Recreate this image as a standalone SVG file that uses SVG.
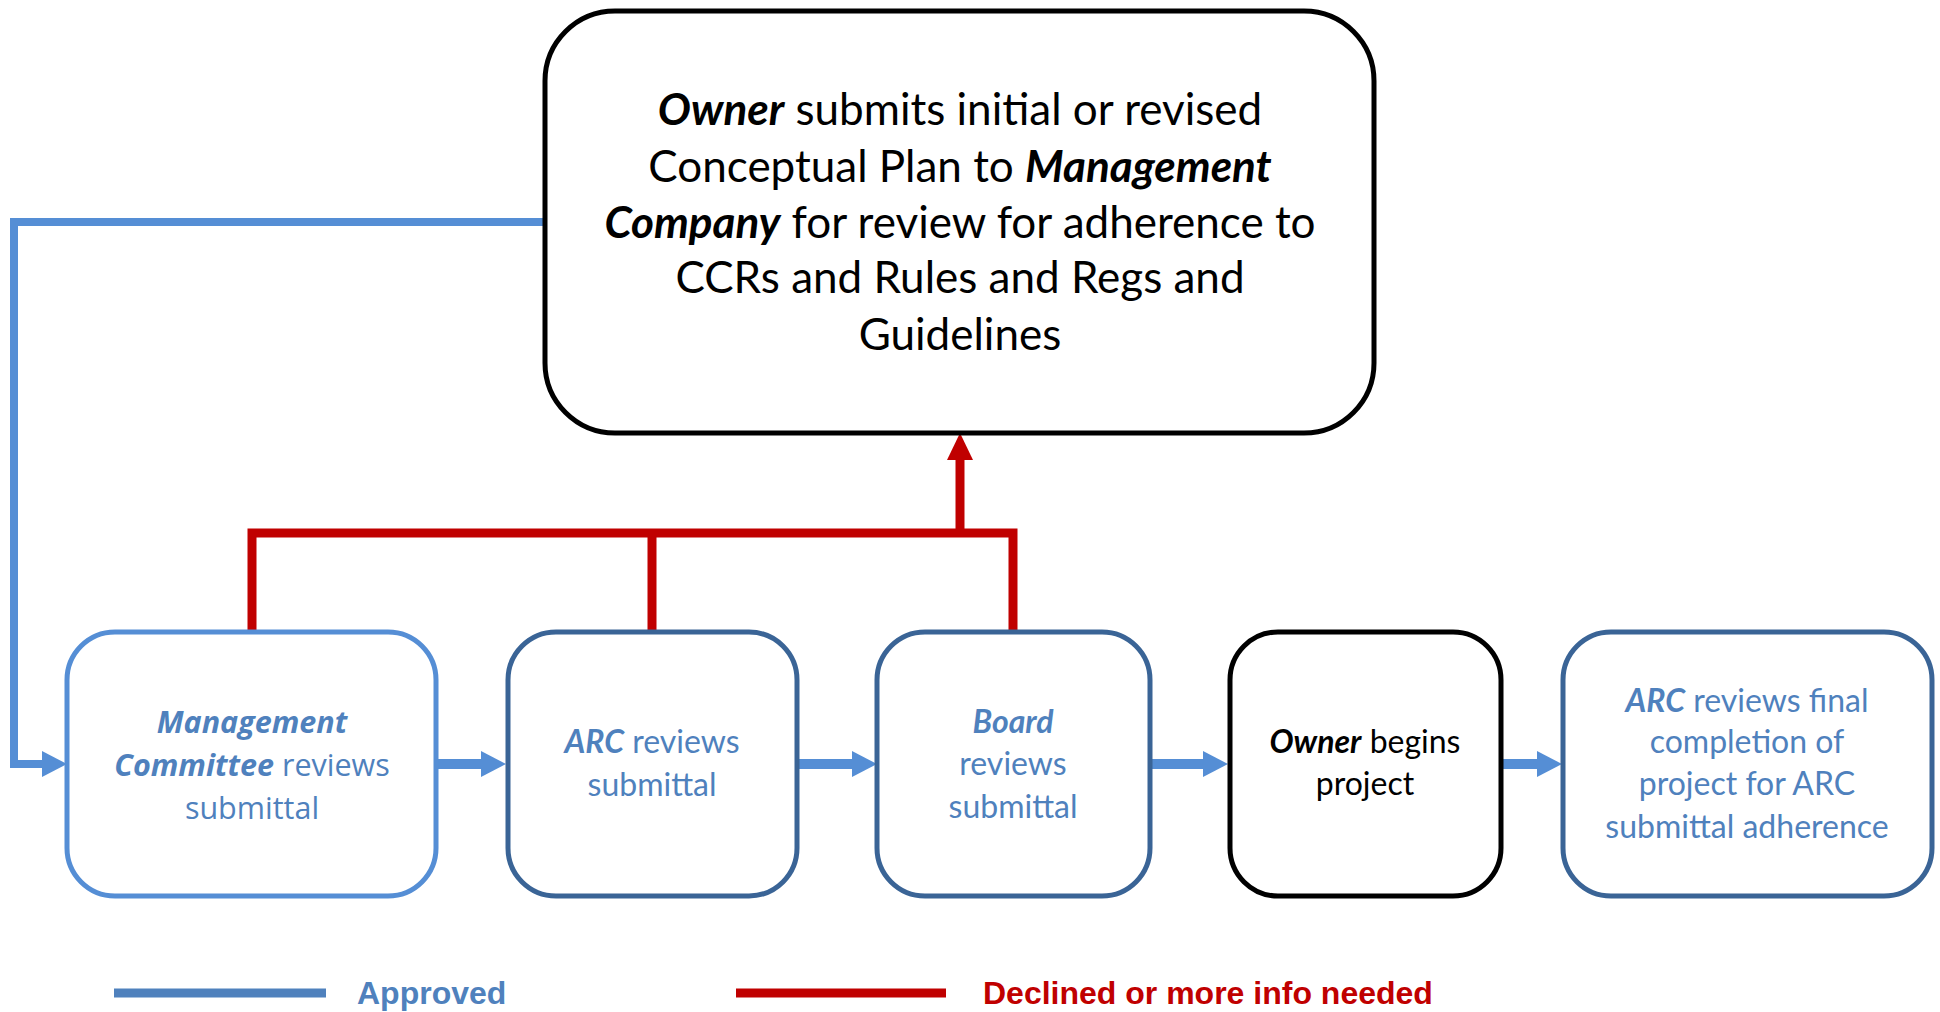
<svg xmlns="http://www.w3.org/2000/svg" width="1940" height="1012" viewBox="0 0 1940 1012">
<style>
.box{fill:#fff;stroke-width:5}
.lb{stroke:#558ED5}
.db{stroke:#3A6496}
.bk{stroke:#000}
.big{font-family:Lato,"Open Sans",sans-serif;font-size:44px;fill:#000;text-anchor:middle}
.sm{font-family:Lato,"Open Sans",sans-serif;font-size:32px;text-anchor:middle}
.seg{font-family:"Open Sans","Noto Sans",sans-serif;font-size:30.5px;text-anchor:middle;fill:#4F81BD}
.blue{fill:#4F81BD}
.bi{font-weight:bold;font-style:italic}
.leg{font-family:"Liberation Sans",Arial,sans-serif;font-size:32px;font-weight:bold}
.ok{fill:none;stroke:#558ED5;stroke-linejoin:miter}
.no{fill:none;stroke:#C00000;stroke-width:9;stroke-linejoin:miter}
</style>
<defs>
<marker id="ah" markerUnits="userSpaceOnUse" markerWidth="25" markerHeight="26" refX="0" refY="13" orient="auto" overflow="visible">
<path d="M0,0 L25,13 L0,26 Z" fill="#558ED5"/>
</marker>
<marker id="ahr" markerUnits="userSpaceOnUse" markerWidth="27" markerHeight="26" refX="0" refY="13" orient="auto" overflow="visible">
<path d="M0,0 L27,13 L0,26 Z" fill="#C00000"/>
</marker>
</defs>

<g id="connectors">
<path class="ok" stroke-width="8" d="M545,222 H14 V764 H42" marker-end="url(#ah)"/>
<path class="ok" stroke-width="10" d="M438,764 H481" marker-end="url(#ah)"/>
<path class="ok" stroke-width="10" d="M799,764 H852" marker-end="url(#ah)"/>
<path class="ok" stroke-width="10" d="M1152,764 H1203" marker-end="url(#ah)"/>
<path class="ok" stroke-width="10" d="M1503,764 H1537" marker-end="url(#ah)"/>
<path class="no" d="M252,632 V533 H1013 V632"/>
<path class="no" d="M652,533 V632"/>
<path class="no" stroke-width="10" d="M960,533 V460" marker-end="url(#ahr)"/>
</g>

<g id="node-submit">
<rect class="box bk" x="545" y="11" width="829" height="422" rx="70" ry="70"/>
<text class="big" x="960" y="125"><tspan class="bi">Owner</tspan> submits initial or revised</text>
<text class="big" x="960" y="182">Conceptual Plan to <tspan class="bi">Management</tspan></text>
<text class="big" x="960" y="238"><tspan class="bi">Company</tspan> for review for adherence to</text>
<text class="big" x="960" y="293">CCRs and Rules and Regs and</text>
<text class="big" x="960" y="350">Guidelines</text>
</g>

<g id="node-mgmt">
<rect class="box lb" x="67" y="632" width="369" height="264" rx="48" ry="48"/>
<text class="seg" x="252" y="733"><tspan class="bi">Management</tspan></text>
<text class="seg" x="252" y="776"><tspan class="bi">Committee</tspan> reviews</text>
<text class="seg" x="252" y="819">submittal</text>
</g>

<g id="node-arc">
<rect class="box db" x="508" y="632" width="289" height="264" rx="48" ry="48"/>
<text class="sm blue" x="652" y="753"><tspan class="bi">ARC</tspan> reviews</text>
<text class="sm blue" x="652" y="796">submittal</text>
</g>

<g id="node-board">
<rect class="box db" x="877" y="632" width="273" height="264" rx="48" ry="48"/>
<text class="sm blue" x="1013" y="733"><tspan class="bi">Board</tspan></text>
<text class="sm blue" x="1013" y="775">reviews</text>
<text class="sm blue" x="1013" y="818">submittal</text>
</g>

<g id="node-owner">
<rect class="box bk" x="1230" y="632" width="271" height="264" rx="48" ry="48"/>
<text class="sm" x="1365" y="753" fill="#000"><tspan class="bi">Owner</tspan> begins</text>
<text class="sm" x="1365" y="795" fill="#000">project</text>
</g>

<g id="node-final">
<rect class="box db" x="1563" y="632" width="369" height="264" rx="48" ry="48"/>
<text class="sm blue" x="1747" y="712"><tspan class="bi">ARC</tspan> reviews final</text>
<text class="sm blue" x="1747" y="753">completion of</text>
<text class="sm blue" x="1747" y="795">project for ARC</text>
<text class="sm blue" x="1747" y="838">submittal adherence</text>
</g>

<g id="legend">
<line x1="114" y1="993" x2="326" y2="993" stroke="#4F81BD" stroke-width="9"/>
<text class="leg" x="357" y="1004" fill="#4F81BD">Approved</text>
<line x1="736" y1="993" x2="946" y2="993" stroke="#C00000" stroke-width="9"/>
<text class="leg" x="983" y="1004" fill="#C00000">Declined or more info needed</text>
</g>
</svg>
